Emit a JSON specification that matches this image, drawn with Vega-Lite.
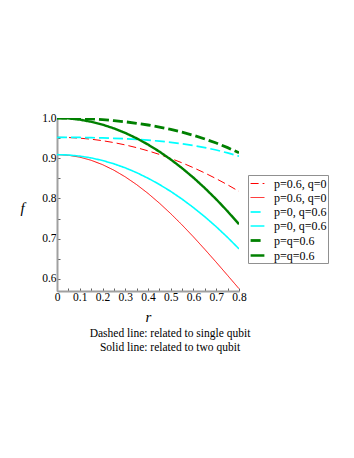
{
  "$schema": "https://vega.github.io/schema/vega-lite/v6.json",
  "width": 182,
  "height": 173,
  "autosize": {"type": "none"},
  "padding": {"left": 57, "top": 118, "right": 115, "bottom": 167},
  "background": "white",
  "config": {
    "view": {"stroke": null},
    "font": "Liberation Serif"
  },
  "title": {
    "text": ["Dashed line: related to single qubit", "Solid line: related to two qubit"],
    "orient": "bottom",
    "anchor": "middle",
    "dx": 22,
    "offset": 4,
    "font": "Liberation Serif",
    "fontSize": 11.5,
    "fontWeight": "normal",
    "color": "black",
    "lineHeight": 14
  },
  "data": {
    "values": [
      {"r": 0, "f": 0.952, "s": "a"}, {"r": 0.05, "f": 0.9515, "s": "a"}, {"r": 0.1, "f": 0.9499, "s": "a"}, {"r": 0.15, "f": 0.9473, "s": "a"}, {"r": 0.2, "f": 0.9436, "s": "a"}, {"r": 0.25, "f": 0.9389, "s": "a"}, {"r": 0.3, "f": 0.9331, "s": "a"}, {"r": 0.35, "f": 0.9263, "s": "a"}, {"r": 0.4, "f": 0.9184, "s": "a"}, {"r": 0.45, "f": 0.9095, "s": "a"}, {"r": 0.5, "f": 0.8995, "s": "a"}, {"r": 0.55, "f": 0.8885, "s": "a"}, {"r": 0.6, "f": 0.8764, "s": "a"}, {"r": 0.65, "f": 0.8633, "s": "a"}, {"r": 0.7, "f": 0.8491, "s": "a"}, {"r": 0.75, "f": 0.8339, "s": "a"}, {"r": 0.8, "f": 0.8176, "s": "a"},
      {"r": 0, "f": 0.909, "s": "b"}, {"r": 0.05, "f": 0.9074, "s": "b"}, {"r": 0.1, "f": 0.9027, "s": "b"}, {"r": 0.15, "f": 0.8949, "s": "b"}, {"r": 0.2, "f": 0.8841, "s": "b"}, {"r": 0.25, "f": 0.8703, "s": "b"}, {"r": 0.3, "f": 0.8537, "s": "b"}, {"r": 0.35, "f": 0.8344, "s": "b"}, {"r": 0.4, "f": 0.8126, "s": "b"}, {"r": 0.45, "f": 0.7884, "s": "b"}, {"r": 0.5, "f": 0.7622, "s": "b"}, {"r": 0.55, "f": 0.7341, "s": "b"}, {"r": 0.6, "f": 0.7044, "s": "b"}, {"r": 0.65, "f": 0.6733, "s": "b"}, {"r": 0.7, "f": 0.6414, "s": "b"}, {"r": 0.75, "f": 0.6087, "s": "b"}, {"r": 0.8, "f": 0.5758, "s": "b"},
      {"r": 0, "f": 0.952, "s": "c"}, {"r": 0.05, "f": 0.9519, "s": "c"}, {"r": 0.1, "f": 0.9516, "s": "c"}, {"r": 0.15, "f": 0.9512, "s": "c"}, {"r": 0.2, "f": 0.9505, "s": "c"}, {"r": 0.25, "f": 0.9496, "s": "c"}, {"r": 0.3, "f": 0.9484, "s": "c"}, {"r": 0.35, "f": 0.9468, "s": "c"}, {"r": 0.4, "f": 0.9449, "s": "c"}, {"r": 0.45, "f": 0.9425, "s": "c"}, {"r": 0.5, "f": 0.9395, "s": "c"}, {"r": 0.55, "f": 0.9359, "s": "c"}, {"r": 0.6, "f": 0.9316, "s": "c"}, {"r": 0.65, "f": 0.9265, "s": "c"}, {"r": 0.7, "f": 0.9204, "s": "c"}, {"r": 0.75, "f": 0.9133, "s": "c"}, {"r": 0.8, "f": 0.905, "s": "c"},
      {"r": 0, "f": 0.909, "s": "d"}, {"r": 0.05, "f": 0.9081, "s": "d"}, {"r": 0.1, "f": 0.9053, "s": "d"}, {"r": 0.15, "f": 0.9008, "s": "d"}, {"r": 0.2, "f": 0.8944, "s": "d"}, {"r": 0.25, "f": 0.8861, "s": "d"}, {"r": 0.3, "f": 0.8761, "s": "d"}, {"r": 0.35, "f": 0.8642, "s": "d"}, {"r": 0.4, "f": 0.8504, "s": "d"}, {"r": 0.45, "f": 0.8349, "s": "d"}, {"r": 0.5, "f": 0.8175, "s": "d"}, {"r": 0.55, "f": 0.7983, "s": "d"}, {"r": 0.6, "f": 0.7772, "s": "d"}, {"r": 0.65, "f": 0.7544, "s": "d"}, {"r": 0.7, "f": 0.7297, "s": "d"}, {"r": 0.75, "f": 0.7031, "s": "d"}, {"r": 0.8, "f": 0.6748, "s": "d"},
      {"r": 0, "f": 1.0, "s": "e"}, {"r": 0.05, "f": 0.9998, "s": "e"}, {"r": 0.1, "f": 0.999, "s": "e"}, {"r": 0.15, "f": 0.9977, "s": "e"}, {"r": 0.2, "f": 0.9959, "s": "e"}, {"r": 0.25, "f": 0.9935, "s": "e"}, {"r": 0.3, "f": 0.9906, "s": "e"}, {"r": 0.35, "f": 0.9869, "s": "e"}, {"r": 0.4, "f": 0.9826, "s": "e"}, {"r": 0.45, "f": 0.9775, "s": "e"}, {"r": 0.5, "f": 0.9716, "s": "e"}, {"r": 0.55, "f": 0.9647, "s": "e"}, {"r": 0.6, "f": 0.9569, "s": "e"}, {"r": 0.65, "f": 0.9479, "s": "e"}, {"r": 0.7, "f": 0.9378, "s": "e"}, {"r": 0.75, "f": 0.9263, "s": "e"}, {"r": 0.8, "f": 0.9135, "s": "e"},
      {"r": 0, "f": 1.0, "s": "f"}, {"r": 0.05, "f": 0.999, "s": "f"}, {"r": 0.1, "f": 0.9959, "s": "f"}, {"r": 0.15, "f": 0.9907, "s": "f"}, {"r": 0.2, "f": 0.9835, "s": "f"}, {"r": 0.25, "f": 0.9742, "s": "f"}, {"r": 0.3, "f": 0.9629, "s": "f"}, {"r": 0.35, "f": 0.9495, "s": "f"}, {"r": 0.4, "f": 0.934, "s": "f"}, {"r": 0.45, "f": 0.9165, "s": "f"}, {"r": 0.5, "f": 0.8969, "s": "f"}, {"r": 0.55, "f": 0.8752, "s": "f"}, {"r": 0.6, "f": 0.8515, "s": "f"}, {"r": 0.65, "f": 0.8257, "s": "f"}, {"r": 0.7, "f": 0.7979, "s": "f"}, {"r": 0.75, "f": 0.768, "s": "f"}, {"r": 0.8, "f": 0.736, "s": "f"}
    ]
  },
  "mark": {"type": "line", "clip": true},
  "encoding": {
    "x": {
      "field": "r", "type": "quantitative",
      "scale": {"domain": [0, 0.8], "nice": false, "zero": false},
      "axis": {
        "title": "r",
        "titleFont": "Liberation Serif", "titleFontStyle": "italic", "titleFontWeight": "normal", "titleFontSize": 15, "titleColor": "black",
        "titleY": 25, "titleBaseline": "middle",
        "values": [0, 0.05, 0.1, 0.15, 0.2, 0.25, 0.3, 0.35, 0.4, 0.45, 0.5, 0.55, 0.6, 0.65, 0.7, 0.75, 0.8],
        "labelExpr": "round(datum.value*100) % 10 == 0 ? format(datum.value, '.1~f') : ''",
        "labelOverlap": false,
        "labelFont": "Liberation Serif", "labelFontSize": 11.5, "labelColor": "black", "labelPadding": 3,
        "grid": false,
        "domainColor": "#a0a0a0", "domainWidth": 2,
        "tickColor": "#606060", "tickSize": -3, "tickWidth": 1,
        "labelFlush": false
      }
    },
    "y": {
      "field": "f", "type": "quantitative",
      "scale": {"domain": [0.57, 1.0], "nice": false, "zero": false},
      "axis": {
        "title": "f",
        "titleFont": "Liberation Serif", "titleFontStyle": "italic", "titleFontWeight": "normal", "titleFontSize": 15, "titleColor": "black",
        "titleAngle": 0, "titleX": -35, "titleY": 89, "titleAlign": "center", "titleBaseline": "middle",
        "values": [0.6, 0.65, 0.7, 0.75, 0.8, 0.85, 0.9, 0.95, 1.0],
        "labelExpr": "round(datum.value*100) % 10 == 0 ? format(datum.value, '.1f') : ''",
        "labelOverlap": false,
        "labelFont": "Liberation Serif", "labelFontSize": 11.5, "labelColor": "black", "labelPadding": 4,
        "grid": false,
        "domainColor": "#a0a0a0", "domainWidth": 2,
        "tickColor": "#606060", "tickSize": -3, "tickWidth": 1,
        "labelFlush": false
      }
    },
    "color": {
      "field": "s", "type": "nominal",
      "scale": {"domain": ["a", "b", "c", "d", "e", "f"], "range": ["#ff0000", "#ff0000", "#00ffff", "#00ffff", "#008000", "#008000"]},
      "legend": {
        "title": null,
        "orient": "none", "legendX": 191, "legendY": 57,
        "labelExpr": "datum.value == 'a' || datum.value == 'b' ? 'p=0.6, q=0' : (datum.value == 'c' || datum.value == 'd' ? 'p=0, q=0.6' : 'p=q=0.6')",
        "labelFont": "Liberation Serif", "labelFontSize": 12, "labelColor": "black", "labelOffset": 8,
        "symbolType": "M-1,0H1", "symbolSize": 190,
        "rowPadding": 0,
        "padding": 1,
        "strokeColor": "#909090", "fillColor": "white",
        "labelLimit": 100
      }
    },
    "strokeDash": {
      "field": "s", "type": "nominal",
      "scale": {"domain": ["a", "b", "c", "d", "e", "f"], "range": [[8, 4], [1, 0], [10, 4], [1, 0], [10, 4], [1, 0]]},
      "legend": null
    },
    "strokeWidth": {
      "field": "s", "type": "ordinal",
      "scale": {"type": "ordinal", "domain": ["a", "b", "c", "d", "e", "f"], "range": [1, 1, 1.7, 1.6, 2.8, 2.4]},
      "legend": null
    }
  }
}
